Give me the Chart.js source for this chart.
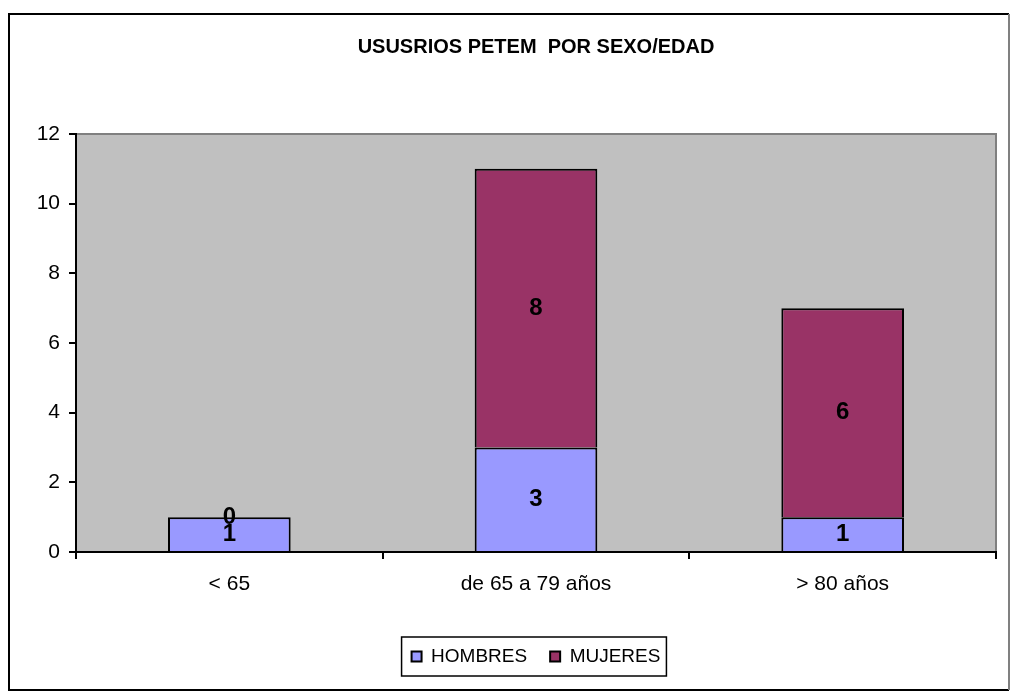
<!DOCTYPE html>
<html>
<head>
<meta charset="utf-8">
<script src="https://cdn.jsdelivr.net/npm/chart.js@4.4.1/dist/chart.umd.min.js"></script>
<style>
  html, body { margin: 0; padding: 0; background: #fff; }
  #wrap { width: 1011px; height: 698px; position: relative; }
</style>
</head>
<body>
<div id="wrap"><canvas id="edadChart"></canvas></div>
<script>
const categories = ["< 65", "de 65 a 79 años", "> 80 años"];
const hombres = [1, 3, 1];
const mujeres = [0, 8, 6];
const yTicks = [0, 2, 4, 6, 8, 10, 12];

const FONT = "'Liberation Sans', Arial, sans-serif";

// gray plot background + outer frame
const frame = {
  id: "frame",
  beforeDraw(chart) {
    const { ctx, chartArea: a } = chart;
    ctx.save();
    ctx.fillStyle = "#C0C0C0";
    ctx.fillRect(a.left, a.top, a.right - a.left, a.bottom - a.top);
    ctx.strokeStyle = "#808080";
    ctx.lineWidth = 2;
    ctx.beginPath();
    ctx.moveTo(a.left, a.top);
    ctx.lineTo(a.right, a.top);
    ctx.lineTo(a.right, a.bottom);
    ctx.stroke();

    // outer border
    ctx.strokeStyle = "#000";
    ctx.lineWidth = 2;
    ctx.beginPath();
    ctx.moveTo(1009, 690);
    ctx.lineTo(9, 690);
    ctx.lineTo(9, 14);
    ctx.lineTo(1009, 14);
    ctx.stroke();
    ctx.strokeStyle = "#808080";
    ctx.beginPath();
    ctx.moveTo(1009, 14);
    ctx.lineTo(1009, 690);
    ctx.stroke();
    ctx.restore();
  },
  afterDraw(chart) {
    // box around legend
    const boxes = chart.legend.legendHitBoxes;
    if (!boxes || !boxes.length) return;
    const left = Math.min(...boxes.map((b) => b.left));
    const right = Math.max(...boxes.map((b) => b.left + b.width));
    const top = Math.min(...boxes.map((b) => b.top));
    const bottom = Math.max(...boxes.map((b) => b.top + b.height));
    const cy = (top + bottom) / 2;
    const { ctx } = chart;
    ctx.save();
    ctx.strokeStyle = "#000";
    ctx.lineWidth = 1.5;
    ctx.strokeRect(left - 10, cy - 19.5, right - left + 16, 39);
    ctx.restore();
  },
};

// value labels in middle of each segment
const segLabels = {
  id: "segLabels",
  afterDatasetsDraw(chart) {
    const { ctx } = chart;
    ctx.save();
    ctx.font = "bold 24px " + FONT;
    ctx.fillStyle = "#000";
    ctx.textAlign = "center";
    ctx.textBaseline = "middle";
    chart.data.datasets.forEach((ds, i) => {
      chart.getDatasetMeta(i).data.forEach((bar, j) => {
        const p = bar.getCenterPoint();
        ctx.fillText(ds.data[j], p.x, p.y);
      });
    });
    ctx.restore();
  },
};

new Chart(document.getElementById("edadChart"), {
  type: "bar",
  plugins: [frame, segLabels],
  data: {
    labels: categories,
    datasets: [
      {
        label: "HOMBRES",
        data: hombres,
        backgroundColor: "#9999FF",
        borderColor: "#000",
        borderWidth: 2,
        barPercentage: 0.4,
        categoryPercentage: 1,
      },
      {
        label: "MUJERES",
        data: mujeres,
        backgroundColor: "#993366",
        borderColor: "#000",
        borderWidth: 2,
        barPercentage: 0.4,
        categoryPercentage: 1,
      },
    ],
  },
  options: {
    responsive: true,
    maintainAspectRatio: false,
    animation: false,
    layout: {
      padding: { left: 0, right: 15, top: 0, bottom: 22 },
    },
    plugins: {
      title: {
        display: true,
        fullSize: false,
        text: "USUSRIOS PETEM  POR SEXO/EDAD",
        color: "#000",
        font: { family: FONT, size: 20, weight: "bold" },
        padding: { top: 35, bottom: 75 },
      },
      legend: {
        position: "bottom",
        fullSize: false,
        labels: {
          color: "#000",
          font: { family: FONT, size: 19 },
          boxWidth: 10,
          boxHeight: 10,
          padding: 23,
        },
      },
      tooltip: { enabled: false },
    },
    scales: {
      x: {
        stacked: true,
        afterFit(scale) {
          scale.height = 72;
        },
        ticks: {
          color: "#000",
          font: { family: FONT, size: 21 },
          padding: 13,
        },
        grid: {
          drawOnChartArea: false,
          color: "#000",
          tickLength: 7,
          lineWidth: 2,
        },
        border: { color: "#000", width: 2 },
      },
      y: {
        stacked: true,
        min: 0,
        max: 12,
        afterFit(scale) {
          scale.width = 76;
        },
        afterBuildTicks(scale) {
          scale.ticks = yTicks.map((v) => ({ value: v }));
        },
        ticks: {
          color: "#000",
          font: { family: FONT, size: 21 },
          padding: 9,
        },
        grid: {
          drawOnChartArea: false,
          color: "#000",
          tickLength: 7,
          lineWidth: 2,
        },
        border: { color: "#000", width: 2 },
      },
    },
  },
});
</script>
</body>
</html>
